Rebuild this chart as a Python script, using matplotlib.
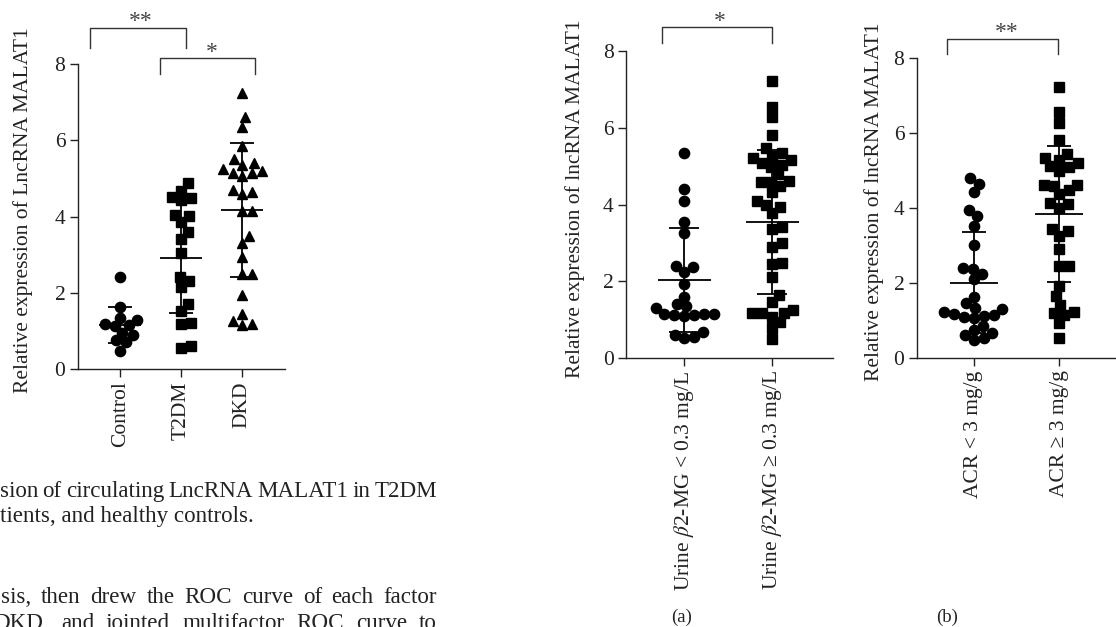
import numpy as np
import matplotlib
matplotlib.use("Agg")
import matplotlib.pyplot as plt

plt.rcParams['font.family'] = ['Liberation Serif', 'DejaVu Serif']
plt.rcParams['mathtext.fontset'] = 'stix'

# ---------------- data ----------------
left_cats = ["Control", "T2DM", "DKD"]
control = [2.42, 1.63, 1.35, 1.28, 1.18, 1.15, 1.12, 0.95, 0.88, 0.75, 0.70, 0.48]
t2dm = [4.87, 4.68, 4.52, 4.48, 4.42, 4.05, 4.02, 3.85, 3.60, 3.42, 3.05, 2.42,
        2.30, 2.15, 1.70, 1.52, 1.20, 1.18, 0.60, 0.55]
dkd = [7.25, 6.60, 6.35, 5.85, 5.50, 5.40, 5.35, 5.15, 5.15, 5.25, 5.20, 5.05,
       4.70, 4.65, 4.60, 4.15, 4.15, 3.50, 3.30, 2.95, 2.50, 2.50, 1.95, 1.45,
       1.25, 1.18, 1.15]
left_means = [1.15, 2.92, 4.17]
left_sds = [0.47, 1.45, 1.76]

a_cats = [r"Urine $\beta$2-MG < 0.3 mg/L", r"Urine $\beta$2-MG ≥ 0.3 mg/L"]
a_low = [5.35, 4.40, 4.10, 3.55, 3.25, 2.40, 2.38, 2.25, 1.92, 1.60, 1.42, 1.35,
         1.30, 1.15, 1.12, 1.12, 1.10, 1.15, 1.15, 0.68, 0.60, 0.55, 0.52]
a_high = [7.21, 6.53, 6.27, 5.81, 5.46, 5.33, 5.26, 5.20, 5.15, 5.09, 5.02, 4.98,
          4.79, 4.62, 4.59, 4.59, 4.48, 4.33, 4.10, 3.99, 3.94, 3.79, 3.42, 3.35,
          2.99, 2.89, 2.47, 2.45, 2.10, 1.65, 1.47, 1.24, 1.17, 1.17, 1.17, 1.07,
          0.93, 0.78, 0.49]
a_means = [2.04, 3.55]
a_sds = [1.36, 1.88]

b_cats = ["ACR < 3 mg/g", "ACR ≥ 3 mg/g"]
b_low = [4.80, 4.65, 4.42, 3.96, 3.78, 3.53, 3.02, 2.40, 2.38, 2.25, 2.10, 1.64,
         1.48, 1.33, 1.30, 1.22, 1.18, 1.16, 1.13, 1.10, 1.07, 0.86, 0.74, 0.67,
         0.62, 0.53, 0.47]
b_high = [7.22, 6.55, 6.27, 5.82, 5.45, 5.33, 5.29, 5.20, 5.11, 5.09, 5.00, 4.62,
          4.62, 4.60, 4.47, 4.38, 4.13, 4.12, 4.00, 3.44, 3.38, 3.26, 2.91, 2.46,
          2.45, 1.93, 1.66, 1.42, 1.24, 1.20, 1.16, 0.93, 0.53]
b_means = [2.01, 3.83]
b_sds = [1.34, 1.81]

yticks = [0, 2, 4, 6, 8]

caption_lines = [
    "sion of circulating LncRNA MALAT1 in T2DM",
    "tients, and healthy controls.",
    "sis, then drew the ROC curve of each factor",
    "DKD, and jointed multifactor ROC curve to",
]

W, H = 1116, 627
fig = plt.figure(figsize=(W / 100, H / 100), dpi=100)


def rect(l, r, t, b):
    return [l / W, 1 - b / H, (r - l) / W, (b - t) / H]


def swarm_offsets(ax, xc, vals, diam_px):
    tr = ax.transData
    ypx = [tr.transform((xc, v))[1] for v in vals]
    x0 = tr.transform((0, 0))[0]
    x1 = tr.transform((1, 0))[0]
    ppu = x1 - x0
    order = np.argsort(ypx)
    placed = []
    offs = np.zeros(len(vals))
    for i in order:
        y = ypx[i]
        k = 0
        while True:
            cands = [0.0] if k == 0 else [k * 0.5, -k * 0.5]
            ok_c = None
            for c in cands:
                if all((c - px) ** 2 + (y - py) ** 2 >= diam_px ** 2 for px, py in placed):
                    ok_c = c
                    break
            if ok_c is not None:
                placed.append((ok_c, y))
                offs[i] = ok_c / ppu
                break
            k += 1
    return offs


def panel(ax, groups, markers, means, sds, cats, xlim, ylabel, mean_hw, cap_hw):
    ax.set_xlim(*xlim)
    ax.set_ylim(0, 8)
    for s in ['top', 'right']:
        ax.spines[s].set_visible(False)
    for s in ['left', 'bottom']:
        ax.spines[s].set_linewidth(1.0)
        ax.spines[s].set_color('#222222')
    ax.set_yticks(yticks)
    ax.set_xticks(range(len(cats)))
    ax.set_xticklabels(cats, rotation=90)
    ax.tick_params(axis='both', direction='out', length=6, width=1.0,
                   color='#222222', labelsize=15.5, pad=3, labelcolor='#222222')
    ax.set_ylabel(ylabel, fontsize=15.5, color='#222222')
    for i, (vals, mk) in enumerate(zip(groups, markers)):
        ms = 7.4 if mk == 'o' else (7.0 if mk == 's' else 7.8)
        offs = swarm_offsets(ax, i, vals, 9.8)
        ax.plot(i + offs, vals, linestyle='none', marker=mk, markersize=ms,
                color='black', zorder=3, clip_on=False)
        m, sd = means[i], sds[i]
        ax.hlines(m, i - mean_hw, i + mean_hw, color='black', lw=1.3, zorder=4)
        ax.vlines(i, m - sd, m + sd, color='black', lw=1.3, zorder=4)
        ax.hlines([m - sd, m + sd], i - cap_hw, i + cap_hw, color='black', lw=1.3, zorder=4)


def bracket(ax, x0, x1, yb, yt, label, xs, ys):
    ax.plot([x0, x0, x1, x1], [yb, yt, yt, yb], color='#333333', lw=1.0, clip_on=False)
    ax.text(xs, ys, label, ha='center', va='center', fontsize=17, color='#444444')


# left panel
ax1 = fig.add_axes(rect(78, 285, 64, 369))
panel(ax1, [control, t2dm, dkd], ['o', 's', '^'], left_means, left_sds, left_cats,
      (-0.69, 2.70), "Relative expression of LncRNA MALAT1", 0.34, 0.2)
bracket(ax1, -0.49, 1.08, 8.43, 8.95, "**", 0.33, 9.12)
bracket(ax1, 0.66, 2.21, 7.75, 8.17, "*", 1.5, 8.3)
ax1.yaxis.set_label_coords(-0.215, 0.52)

# panel (a)
ax2 = fig.add_axes(rect(626, 833, 51, 358))
panel(ax2, [a_low, a_high], ['o', 's'], a_means, a_sds, a_cats,
      (-0.66, 1.69), "Relative expression of lncRNA MALAT1", 0.3, 0.17)
bracket(ax2, -0.25, 1.0, 8.2, 8.62, "*", 0.41, 8.78)
ax2.yaxis.set_label_coords(-0.2, 0.52)

# panel (b)
ax3 = fig.add_axes(rect(917, 1116, 58, 358))
panel(ax3, [b_low, b_high], ['o', 's'], b_means, b_sds, b_cats,
      (-0.67, 1.67), "Relative expression of lncRNA MALAT1", 0.28, 0.14)
bracket(ax3, -0.32, 0.99, 8.11, 8.51, "**", 0.39, 8.68)
ax3.yaxis.set_label_coords(-0.165, 0.52)

fig.text(682 / W, 1 - 617 / H, "(a)", ha='center', va='center', fontsize=13.5, color='#222222')
fig.text(947 / W, 1 - 617 / H, "(b)", ha='center', va='center', fontsize=13.5, color='#222222')

# caption fragments (justified lines)
cap = dict(fontsize=16.6, va='baseline', color='#222222')
renderer = fig.canvas.get_renderer()


def justified(line, x0, x1, ybase):
    words = line.split(' ')
    widths = []
    for w in words:
        t = fig.text(0, 0, w, **cap)
        widths.append(t.get_window_extent(renderer).width)
        t.remove()
    gap = (x1 - x0 - sum(widths)) / (len(words) - 1)
    x = x0
    for w, wd in zip(words, widths):
        fig.text(x / W, 1 - ybase / H, w, ha='left', **cap)
        x += wd + gap


justified(caption_lines[0], 0, 437, 497)
fig.text(0 / W, 1 - 522 / H, caption_lines[1], ha='left', **cap)
justified(caption_lines[2], 1, 437, 603)
justified(caption_lines[3], -7, 437, 629)

fig.savefig("out.png", dpi=100)
